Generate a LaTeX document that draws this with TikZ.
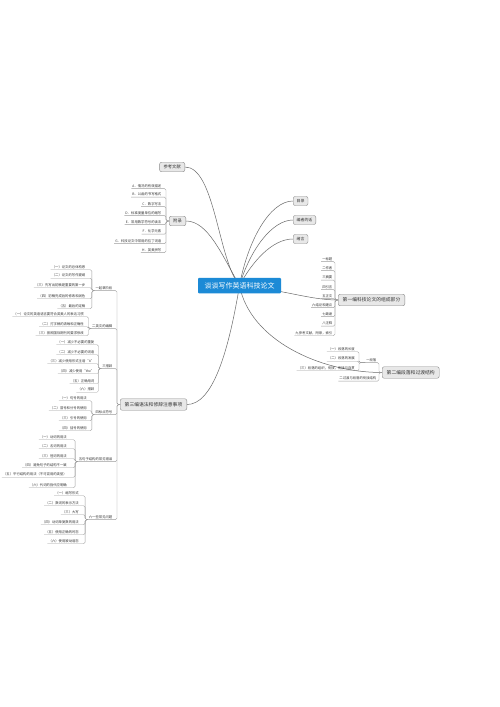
\documentclass[tikz,border=0pt]{standalone}
\usepackage{fontspec}
\setmainfont{Noto Sans CJK SC}
\pgfdeclarelayer{bg}
\pgfsetlayers{bg,main}
\definecolor{linec}{HTML}{6A6A6A}
\definecolor{leafline}{HTML}{9C9C9C}
\definecolor{boxfill}{HTML}{E8E8E8}
\definecolor{boxdraw}{HTML}{8A8A8A}
\definecolor{centralfill}{HTML}{1C8AD6}
\definecolor{txt}{HTML}{333333}
\tikzset{
 leaf/.style={font=\fontsize{3.35}{4}\selectfont, text=txt, inner xsep=1pt, inner ysep=0.9pt, anchor=east},
 topic/.style={draw=boxdraw, fill=boxfill, rounded corners=2pt, line width=0.4pt, text=txt, font=\fontsize{4.3}{5}\selectfont, inner xsep=4pt, inner ysep=0pt, minimum height=9.5pt},
 rtopic/.style={topic, font=\fontsize{3.9}{4.5}\selectfont, inner xsep=3.5pt, minimum height=9pt},
 bigtopic/.style={topic, font=\fontsize{4.8}{5.5}\selectfont, inner xsep=4.5pt, minimum height=11.5pt},
 central/.style={fill=centralfill, text=white, rounded corners=1pt, font=\fontsize{7}{8}\selectfont, inner xsep=5pt, inner ysep=0pt, minimum height=15.5pt, minimum width=83pt},
 branch/.style={draw=linec, line width=0.5pt},
 bracket/.style={draw=leafline, line width=0.35pt, rounded corners=1.5pt},
}
\newcommand\lkB[2]{\draw[bracket] (#1.west) -- ++(-3,0) |- (#2.south west);}
\newcommand\lkS[3]{\draw[bracket] (#1.south west) -- ++(-#3,0) |- (#2.south west);}
\begin{document}
\begin{tikzpicture}[x=1pt,y=-1pt]
\useasboundingbox (0,0) rectangle (500,707);
\begin{pgfonlayer}{bg}\fill[white] (0,0) rectangle (500,707);\end{pgfonlayer}

% central and main topics
\node[central] (c) at (239.5,285.5) {谈谈写作英语科技论文};
\node[topic, anchor=east] (ck) at (185,167) {参考文献};
\node[topic, anchor=east] (fl) at (186,221) {附录};
\node[rtopic, anchor=west] (ml) at (293,201) {目录};
\node[rtopic, anchor=west] (bz) at (293,220) {编者的话};
\node[rtopic, anchor=west] (xy) at (293,239) {绪言};
\node[bigtopic, anchor=west] (p1) at (338,300) {第一编科技论文的组成部分};
\node[bigtopic, anchor=west] (p2) at (382,372.5) {第二编段落和过渡结构};
\node[bigtopic, anchor=east] (p3) at (187,404.5) {第三编语法和修辞注意事项};

\begin{pgfonlayer}{bg}
\draw[branch] (c.center) .. controls (218,260) and (215,167) .. (ck.east);
\draw[branch] (c.center) .. controls (222,255) and (208,221) .. (fl.east);
\draw[branch] (c.center) .. controls (248,240) and (270,201) .. (ml.west);
\draw[branch] (c.center) .. controls (250,250) and (272,220) .. (bz.west);
\draw[branch] (c.center) .. controls (252,262) and (272,239) .. (xy.west);
\draw[branch] (c.center) .. controls (285,290) and (310,300) .. (p1.west);
\draw[branch] (c.center) .. controls (250,340) and (320,372.5) .. (p2.west);
\draw[branch] (c.center) .. controls (228,355) and (212,404.5) .. (p3.east);
\end{pgfonlayer}

% appendix leaves
\node[leaf] (f1) at (162.5,186) {A．情况的有效描述};
\node[leaf] (f2) at (162.5,194.5) {B．公函的书写格式};
\node[leaf] (f3) at (162.5,204) {C．数字写法};
\node[leaf] (f4) at (162.5,213) {D．标准度量单位的缩写};
\node[leaf] (f5) at (162.5,222) {E．常用数学符号的读法};
\node[leaf] (f6) at (162.5,231.5) {F．化学元素};
\node[leaf] (f7) at (162.5,241) {G．科技论文中常用的拉丁词语};
\node[leaf] (f8) at (162.5,250) {H．英美拼写};
\foreach \k in {f1,f2,f3,f4,f5,f6,f7,f8} {\lkB{fl}{\k}}

% part one leaves
\node[leaf] (a1) at (333.5,259) {一标题};
\node[leaf] (a2) at (333.5,268) {二作者};
\node[leaf] (a3) at (333.5,277.5) {三摘要};
\node[leaf] (a4) at (333.5,287) {四引言};
\node[leaf] (a5) at (333.5,296) {五正文};
\node[leaf] (a6) at (333.5,305) {六结论和建议};
\node[leaf] (a7) at (333.5,314) {七致谢};
\node[leaf] (a8) at (333.5,323.5) {八注释};
\node[leaf] (a9) at (333.5,333) {九参考文献，附录，索引};
\foreach \k in {a1,a2,a3,a4,a5,a6,a7,a8,a9} {\lkB{p1}{\k}}

% part two
\node[leaf] (d1) at (377.5,360) {一段落};
\node[leaf] (d2) at (377.5,378.5) {二过渡与段落的衔接结构};
\lkB{p2}{d1} \lkB{p2}{d2}
\node[leaf] (e1) at (356,349) {（一）段落的长度};
\node[leaf] (e2) at (356,358.5) {（二）段落的发展};
\node[leaf] (e3) at (356,368) {（三）段落的组织，衔接，衔接与连贯};
\foreach \k in {e1,e2,e3} {\lkS{d1}{\k}{6}}

% part three groups
\node[leaf] (g1) at (113.5,288) {一起草阶段};
\node[leaf] (g2) at (113.5,326) {二英文的编辑};
\node[leaf] (g3) at (113.5,366) {三措辞};
\node[leaf] (g4) at (113.5,412) {四标点符号};
\node[leaf] (g5) at (113.5,459) {五句子结构的常见错误};
\node[leaf] (g6) at (113.5,517) {六一些常见问题};
\foreach \k in {g1,g2,g3,g4,g5,g6} {\lkB{p3}{\k}}

\node[leaf] (h1) at (86.5,267) {（一）论文的总体构思};
\node[leaf] (h2) at (86.5,275.5) {（二）论文的写作提纲};
\node[leaf] (h3) at (86.5,285) {（三）先写出初稿是重要的第一步};
\node[leaf] (h4) at (86.5,296) {（四）初稿完成后的修改和润色};
\node[leaf] (h5) at (86.5,306) {（五）最后的定稿};
\foreach \k in {h1,h2,h3,h4,h5} {\lkS{g1}{\k}{2.5}}

\node[leaf] (i1) at (85,314) {（一）论文的英语语言要符合英美人的表达习惯};
\node[leaf] (i2) at (85,324) {（二）打字稿的清晰和正确性};
\node[leaf] (i3) at (85,333) {（三）按照国际期刊的要求修改};
\foreach \k in {i1,i2,i3} {\lkS{g2}{\k}{2.5}}

\node[leaf] (j1) at (95.5,342) {（一）减少不必要的重复};
\node[leaf] (j2) at (95.5,352) {（二）减少不必要的词语};
\node[leaf] (j3) at (95.5,361) {（三）减少使用形式主语“it”};
\node[leaf] (j4) at (95.5,371) {（四）减少使用“the”};
\node[leaf] (j5) at (95.5,381) {（五）正确用词};
\node[leaf] (j6) at (95.5,389.5) {（六）措辞};
\foreach \k in {j1,j2,j3,j4,j5,j6} {\lkS{g3}{\k}{2.5}}

\node[leaf] (k1) at (88,398) {（一）句号的用法};
\node[leaf] (k2) at (88,408) {（二）冒号和分号的使用};
\node[leaf] (k3) at (88,418) {（三）引号的使用};
\node[leaf] (k4) at (88,428) {（四）括号的使用};
\foreach \k in {k1,k2,k3,k4} {\lkS{g4}{\k}{2.5}}

\node[leaf] (m1) at (68,437) {（一）动词的用法};
\node[leaf] (m2) at (68,446) {（二）名词的用法};
\node[leaf] (m3) at (68,456) {（三）冠词的用法};
\node[leaf] (m4) at (68,465) {（四）避免句子的结构不一致};
\node[leaf] (m5) at (68,474.5) {（五）平行结构的用法（不可混用的类型）};
\node[leaf] (m6) at (68,485) {（六）代词的指代应明确};
\foreach \k in {m1,m2,m3,m4,m5,m6} {\lkS{g5}{\k}{2.5}}

\node[leaf] (n1) at (80,493) {（一）缩写形式};
\node[leaf] (n2) at (80,503) {（二）数词的表示方法};
\node[leaf] (n3) at (80,512) {（三）大写};
\node[leaf] (n4) at (80,522) {（四）动词单复数的用法};
\node[leaf] (n5) at (80,532) {（五）使用正确的时态};
\node[leaf] (n6) at (80,541) {（六）使用被动语态};
\foreach \k in {n1,n2,n3,n4,n5,n6} {\lkS{g6}{\k}{2.5}}
\end{tikzpicture}
\end{document}
